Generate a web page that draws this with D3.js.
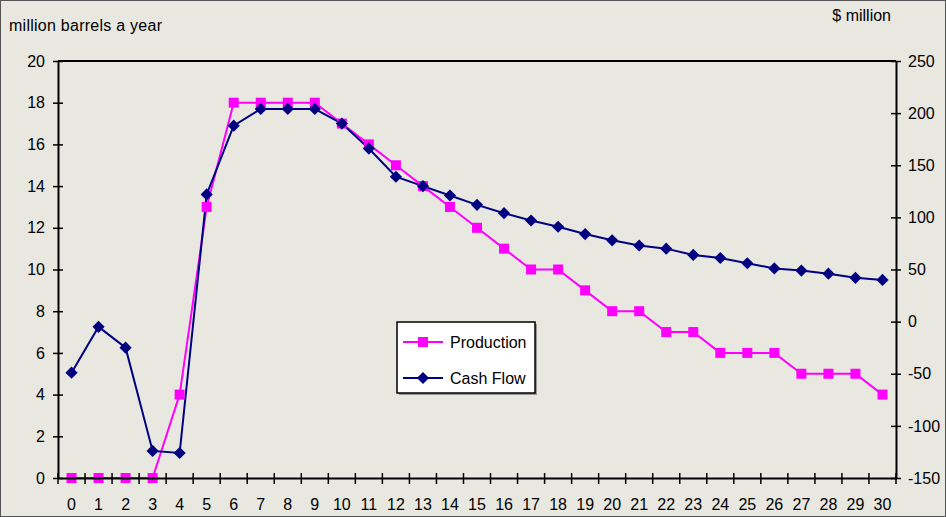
<!DOCTYPE html>
<html>
<head>
<meta charset="utf-8">
<script src="https://cdn.jsdelivr.net/npm/d3@7"></script>
<style>
  html, body { margin: 0; padding: 0; background: #e8e7e0; overflow: hidden; }
  svg { display: block; font-family: "Liberation Sans", Arial, sans-serif; }
</style>
</head>
<body>
<div id="chart"></div>
<script>
// Data
const years = d3.range(0, 31);
const production = [0, 0, 0, 0, 4, 13, 18, 18, 18, 18, 17, 16, 15, 14, 13, 12, 11, 10, 10, 9, 8, 8, 7, 7, 6, 6, 6, 5, 5, 5, 4];
const cashFlow = [-49, -5, -25, -124, -126, 122, 188, 204, 204, 204, 190, 166, 139, 130, 121, 112, 104, 97, 91, 84, 78, 73, 70, 64, 61, 56, 51, 49, 46, 42, 40];
const leftTicks = [0, 2, 4, 6, 8, 10, 12, 14, 16, 18, 20];
const rightTicks = [-150, -100, -50, 0, 50, 100, 150, 200, 250];

const width = 946;
const height = 517;
const margin = {top: 61, right: 50, bottom: 39, left: 58};
const innerWidth = width - margin.left - margin.right;
const innerHeight = height - margin.top - margin.bottom;
const prodColor = "#ff00ff";
const cashColor = "#000080";

const svg = d3.select("#chart")
  .append("svg")
    .attr("width", width)
    .attr("height", height)
    .attr("viewBox", `0 0 ${width} ${height}`);

// background and frame
svg.append("rect")
  .attr("x", 0.5).attr("y", 0.5)
  .attr("width", width - 1).attr("height", height - 1)
  .attr("fill", "#e8e7e0")
  .attr("stroke", "#555");

const innerChart = svg.append("g")
  .attr("transform", `translate(${margin.left}, ${margin.top})`);

// scales
const xScale = d3.scaleBand()
  .domain(years)
  .range([0, innerWidth]);
const xPos = d => xScale(d) + xScale.bandwidth() / 2;

const yLeft = d3.scaleLinear().domain([0, 20]).range([innerHeight, 0]);
const yRight = d3.scaleLinear().domain([-150, 250]).range([innerHeight, 0]);

// plot frame top line
innerChart.append("line")
  .attr("x1", 0).attr("x2", innerWidth)
  .attr("y1", 0).attr("y2", 0)
  .attr("stroke", "#000").attr("stroke-width", 2);

// lines
const prodLine = d3.line()
  .x((d, i) => xPos(years[i]))
  .y(d => yLeft(d));
const cashLine = d3.line()
  .x((d, i) => xPos(years[i]))
  .y(d => yRight(d));

innerChart.append("path")
  .datum(production)
  .attr("d", prodLine)
  .attr("fill", "none")
  .attr("stroke", prodColor)
  .attr("stroke-width", 2);

innerChart.append("path")
  .datum(cashFlow)
  .attr("d", cashLine)
  .attr("fill", "none")
  .attr("stroke", cashColor)
  .attr("stroke-width", 2);

// markers: square, and a square turned 45 degrees for the diamond
const square = d3.symbol().type(d3.symbolSquare).size(100);
const diamond = d3.symbol().type(d3.symbolSquare).size(74);

innerChart.append("g")
  .selectAll("path")
  .data(production)
  .join("path")
    .attr("d", square)
    .attr("transform", (d, i) => `translate(${xPos(years[i])}, ${yLeft(d)})`)
    .attr("fill", prodColor);

innerChart.append("g")
  .selectAll("path")
  .data(cashFlow)
  .join("path")
    .attr("d", diamond)
    .attr("transform", (d, i) => `translate(${xPos(years[i])}, ${yRight(d)}) rotate(45)`)
    .attr("fill", cashColor);

// axes
const styleAxis = g => {
  g.select(".domain").attr("stroke", "#000").attr("stroke-width", 2);
  g.selectAll(".tick line").attr("stroke", "#000").attr("stroke-width", 1.5);
  g.selectAll(".tick text").attr("fill", "#000").attr("font-size", 16);
};

const leftAxis = d3.axisLeft(yLeft)
  .tickValues(leftTicks)
  .tickFormat(d => String(d))
  .tickSizeInner(-5).tickSizeOuter(0)
  .tickPadding(13);
innerChart.append("g")
  .call(leftAxis)
  .call(styleAxis)
  .call(g => g.selectAll(".tick line").attr("x1", -5).attr("x2", 5));

const rightAxis = d3.axisRight(yRight)
  .tickValues(rightTicks)
  .tickFormat(d => String(d))
  .tickSizeInner(-5).tickSizeOuter(0)
  .tickPadding(12);
innerChart.append("g")
  .attr("transform", `translate(${innerWidth}, 0)`)
  .call(rightAxis)
  .call(styleAxis)
  .call(g => g.selectAll(".tick line").attr("x1", -5).attr("x2", 5));

const bottomAxis = d3.axisBottom(xScale)
  .tickSizeOuter(0)
  .tickPadding(15);
const xAxisG = innerChart.append("g")
  .attr("transform", `translate(0, ${innerHeight})`)
  .call(bottomAxis)
  .call(styleAxis);
xAxisG.selectAll(".tick line").remove();
// ticks between categories
xAxisG.append("g")
  .selectAll("line")
  .data(d3.range(0, years.length + 1))
  .join("line")
    .attr("x1", i => i * xScale.step())
    .attr("x2", i => i * xScale.step())
    .attr("y1", -5).attr("y2", 6)
    .attr("stroke", "#000").attr("stroke-width", 1.5);

// axis titles
svg.append("text")
  .text("million barrels a year")
  .attr("x", 9).attr("y", 31)
  .attr("font-size", 16)
  .attr("textLength", 153)
  .attr("fill", "#000");

svg.append("text")
  .text("$ million")
  .attr("x", 891).attr("y", 21)
  .attr("text-anchor", "end")
  .attr("font-size", 16)
  .attr("fill", "#000");

// legend
const legend = svg.append("g").attr("transform", "translate(397, 322)");
legend.append("rect")
  .attr("x", 2).attr("y", 2)
  .attr("width", 138).attr("height", 71)
  .attr("fill", "#999");
legend.append("rect")
  .attr("width", 138).attr("height", 71)
  .attr("fill", "#fff")
  .attr("stroke", "#000").attr("stroke-width", 1.5);

const legendItems = [
  {name: "Production", color: prodColor, symbol: square, y: 20, rot: 0},
  {name: "Cash Flow", color: cashColor, symbol: diamond, y: 56, rot: 45}
];
legendItems.forEach(item => {
  legend.append("line")
    .attr("x1", 6).attr("x2", 46)
    .attr("y1", item.y).attr("y2", item.y)
    .attr("stroke", item.color).attr("stroke-width", 2);
  legend.append("path")
    .attr("d", item.symbol)
    .attr("transform", `translate(26, ${item.y}) rotate(${item.rot})`)
    .attr("fill", item.color);
  legend.append("text")
    .text(item.name)
    .attr("x", 53).attr("y", item.y + 6)
    .attr("font-size", 16)
    .attr("fill", "#000");
});
</script>
</body>
</html>
